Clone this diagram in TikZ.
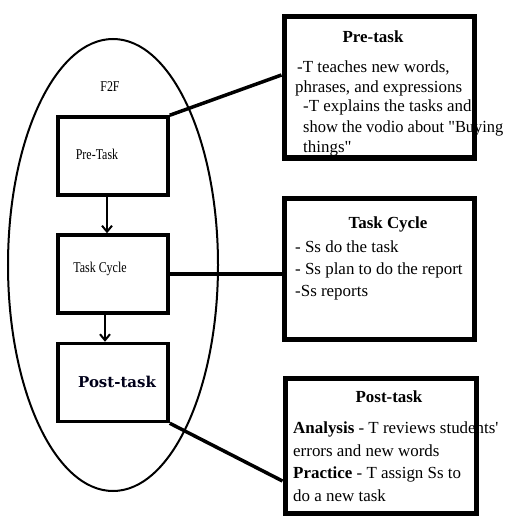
\documentclass[tikz,border=0pt]{standalone}
\usepackage{fontspec}
\setmainfont{Liberation Serif}
\newfontfamily\wideserif{DejaVu Serif}
\newfontfamily\rawserif{Liberation Serif}
\usetikzlibrary{arrows.meta,calc,shapes.geometric}

\tikzset{
  ring/.style={draw, line width=2bp},
  stagebox/.style={draw, line width=3.5bp, minimum width=110bp, minimum height=78bp, inner sep=0},
  notebox/.style={draw, line width=5bp, inner sep=0},
  link/.style={line width=3.5bp},
  flow/.style={line width=2bp, -{Straight Barb[length=6bp,width=10bp,line width=2bp]}},
  narrow/.style={font=\fontsize{15}{18}\selectfont, anchor=base, inner sep=0},
  notehead/.style={font=\fontsize{17}{21}\selectfont\bfseries, anchor=base, inner sep=0},
  posthead/.style={font=\wideserif\fontsize{15}{18}\selectfont\bfseries, anchor=base, inner sep=0, text=black!90!blue},
  noteline/.style={font=\fontsize{17}{21}\selectfont, anchor=base west, inner sep=0},
}
% straight quote marks, kept out of the TeX quote mapping
\newcommand{\dq}{{\rawserif\symbol{34}}}
\newcommand{\sq}{{\rawserif\symbol{39}}}

\begin{document}
\begin{tikzpicture}[x=1bp,y=-1bp]
\useasboundingbox (0,0) rectangle (508,516);

% face-to-face lesson: the ellipse and its three stages
\node[ring, ellipse, minimum width=210bp, minimum height=452bp, inner sep=0] (f2f) at (113,265) {};
\node[narrow] (f2flabel) at (110,92) {\scalebox{0.8}[1]{F2F}};

\node[stagebox] (pre)  at (113,156) {};
\node[stagebox] (tc)   at (113,274) {};
\node[stagebox] (post) at (113,382.5) {};

\node[narrow] (pretxt) at (97,160) {\scalebox{0.8}[1]{Pre-Task}};
\node[narrow] (tctxt)  at (100,272) {\scalebox{0.8}[1]{Task Cycle}};
\node[posthead] (posttxt) at (117,387) {Post-task};

\draw[flow] ([xshift=-6bp]pre.south) -- ([xshift=-6bp]tc.north);
\draw[flow] ([xshift=-8bp]tc.south) -- ([xshift=-8bp]post.north);

% notes for each stage
\node[notehead] (n1t) at (373,43) {Pre-task};
\node[noteline] (n1a) at (297,73)  {-T teaches new words,};
\node[noteline] (n1b) at (295,93)  {phrases, and expressions};
\node[noteline] (n1c) at (303,112) {-T explains the tasks and};
\node[noteline] (n1d) at (303,133) {\scalebox{0.97}[1]{show the vodio about \dq Buying}};
\node[noteline] (n1e) at (303,153) {things\dq};

\node[notehead] (n2t) at (388,228) {Task Cycle};
\node[noteline] (n2a) at (295,252) {- Ss do the task};
\node[noteline] (n2b) at (295,274) {- Ss plan to do the report};
\node[noteline] (n2c) at (295,296) {-Ss reports};

\node[notehead] (n3t) at (389,402) {Post-task};
\node[noteline] (n3a) at (293,433) {\textbf{Analysis} - T reviews students\sq};
\node[noteline] (n3b) at (293,456) {errors and new words};
\node[noteline] (n3c) at (293,478) {\textbf{Practice} - T assign Ss to};
\node[noteline] (n3d) at (293,501) {do a new task};

% note frames, drawn over their text
\node[notebox, minimum width=190bp, minimum height=141bp] (r1) at (379,87.5) {};
\node[notebox, minimum width=190bp, minimum height=140bp] (r2) at (379,269) {};
\node[notebox, minimum width=191bp, minimum height=135bp] (r3) at (380.5,445.5) {};

% connectors from stages to notes
\coordinate (e1) at (r1.north west |- 0,75);
\coordinate (e3) at (r3.north west |- 0,481);
\draw[link] (pre.north east) -- (e1);
\draw[link] (tc.east) -- (tc.east -| r2.west);
\draw[link] (post.south east) -- (e3);
\end{tikzpicture}
\end{document}
